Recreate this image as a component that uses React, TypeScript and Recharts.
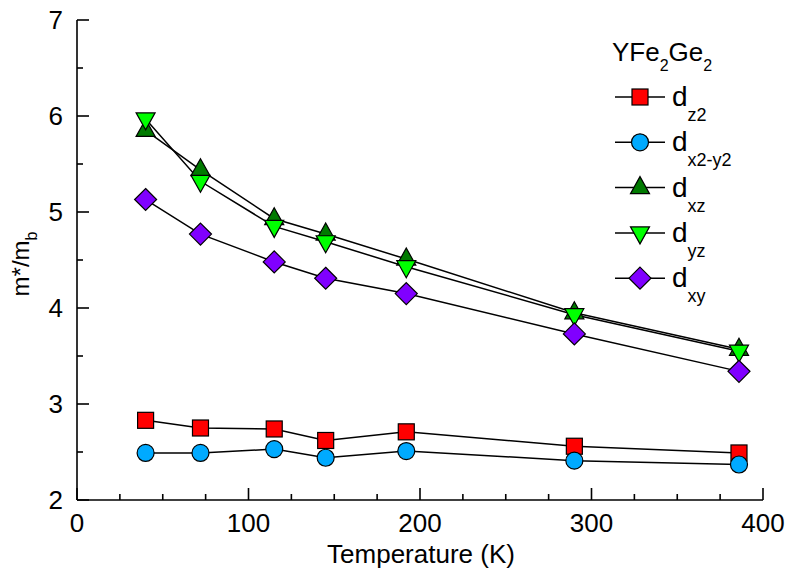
import { LineChart, Line, XAxis, YAxis, Legend } from "recharts"

const temps = [40, 72, 115, 145, 192, 290, 386]
const dz2 = [2.83, 2.75, 2.74, 2.62, 2.71, 2.56, 2.49]
const dx2y2 = [2.49, 2.49, 2.53, 2.44, 2.51, 2.41, 2.37]
const dxz = [5.85, 5.44, 4.93, 4.77, 4.51, 3.95, 3.57]
const dyz = [5.97, 5.32, 4.85, 4.69, 4.43, 3.93, 3.55]
const dxy = [5.13, 4.77, 4.48, 4.31, 4.15, 3.73, 3.34]

const xTicks = [0, 25, 50, 75, 100, 125, 150, 175, 200, 225, 250, 275, 300, 325, 350, 375, 400]
const yTicks = [2, 2.5, 3, 3.5, 4, 4.5, 5, 5.5, 6, 6.5, 7]

const FONT = "'Liberation Sans', Arial, Helvetica, sans-serif"
const AX = { stroke: "#000", strokeWidth: 1.6 }

const data = temps.map((t, i) => ({
  t,
  dz2: dz2[i],
  dx2y2: dx2y2[i],
  dxz: dxz[i],
  dyz: dyz[i],
  dxy: dxy[i],
}))

// marker shapes
function Marker({ kind, cx, cy, fill }: { kind: string; cx: number; cy: number; fill: string }) {
  const s = { fill, stroke: "#000", strokeWidth: 1.2 }
  if (kind === "square") return <rect x={cx - 8} y={cy - 8} width={16} height={16} {...s} />
  if (kind === "circle") return <circle cx={cx} cy={cy} r={8.5} {...s} />
  if (kind === "up")
    return <polygon points={`${cx},${cy - 11} ${cx + 9.5},${cy + 6} ${cx - 9.5},${cy + 6}`} {...s} />
  if (kind === "down")
    return <polygon points={`${cx},${cy + 11} ${cx + 9.5},${cy - 6} ${cx - 9.5},${cy - 6}`} {...s} />
  return <polygon points={`${cx},${cy - 11} ${cx + 11},${cy} ${cx},${cy + 11} ${cx - 11},${cy}`} {...s} />
}

const series = [
  { key: "dz2", kind: "square", fill: "#ff0000", sub: "z2" },
  { key: "dx2y2", kind: "circle", fill: "#00aaff", sub: "x2-y2" },
  { key: "dxz", kind: "up", fill: "#007a00", sub: "xz" },
  { key: "dyz", kind: "down", fill: "#00ff00", sub: "yz" },
  { key: "dxy", kind: "diamond", fill: "#8000ff", sub: "xy" },
]

const tickLen = (major: boolean) => (major ? 12 : 6)

const BottomTick = (p: any) => {
  const major = p.payload.value % 100 === 0
  return (
    <g>
      <line x1={p.x} x2={p.x} y1={p.y} y2={p.y - tickLen(major)} {...AX} />
      {major && (
        <text x={p.x} y={p.y + 32} textAnchor="middle" fontSize={26} fontFamily={FONT} fill="#000">
          {p.payload.value}
        </text>
      )}
    </g>
  )
}
const TopTick = (p: any) => {
  const major = p.payload.value % 100 === 0
  return <line x1={p.x} x2={p.x} y1={p.y} y2={p.y + tickLen(major)} {...AX} />
}
const LeftTick = (p: any) => {
  const major = p.payload.value % 1 === 0
  return (
    <g>
      <line x1={p.x} x2={p.x + tickLen(major)} y1={p.y} y2={p.y} {...AX} />
      {major && (
        <text x={p.x - 14} y={p.y + 9} textAnchor="end" fontSize={26} fontFamily={FONT} fill="#000">
          {p.payload.value}
        </text>
      )}
    </g>
  )
}
const RightTick = (p: any) => {
  const major = p.payload.value % 1 === 0
  return <line x1={p.x} x2={p.x - tickLen(major)} y1={p.y} y2={p.y} {...AX} />
}

const renderLegend = () => (
  <svg width={180} height={300} style={{ overflow: "visible" }}>
    <text x={12} y={36} fontSize={26} fontFamily={FONT} fill="#000">
      YFe<tspan dy={10} fontSize={16}>2</tspan>
      <tspan dy={-10}>Ge</tspan>
      <tspan dy={10} fontSize={16}>2</tspan>
    </text>
    {series.map((s, i) => {
      const cy = 72 + i * 45.3
      return (
        <g key={s.key}>
          <line x1={15} x2={65} y1={cy} y2={cy} stroke="#000" strokeWidth={1.5} />
          <Marker kind={s.kind} cx={40} cy={cy} fill={s.fill} />
          <text x={72} y={cy + 9} fontSize={28} fontFamily={FONT} fill="#000">
            d<tspan dy={15} fontSize={18}>{s.sub}</tspan>
          </text>
        </g>
      )
    })}
  </svg>
)

export default function App() {
  return (
    <div style={{ position: "absolute", left: 0, top: 0, background: "#fff" }}>
      <LineChart width={789} height={571} data={data} margin={{ top: 20, right: 26, left: 0, bottom: 0 }}>
        <XAxis
          dataKey="t"
          type="number"
          domain={[0, 400]}
          ticks={xTicks}
          interval={0}
          height={71}
          tickSize={0}
          tickMargin={0}
          tick={BottomTick}
          axisLine={AX}
          tickLine={false}
          label={{
            content: () => (
              <text x={421} y={563} textAnchor="middle" fontSize={26} fontFamily={FONT} fill="#000">
                Temperature (K)
              </text>
            ),
          }}
        />
        <XAxis
          xAxisId="top"
          orientation="top"
          dataKey="t"
          type="number"
          domain={[0, 400]}
          ticks={xTicks}
          interval={0}
          height={0}
          tickSize={0}
          tickMargin={0}
          tick={TopTick}
          axisLine={AX}
          tickLine={false}
        />
        <YAxis
          type="number"
          domain={[2, 7]}
          ticks={yTicks}
          interval={0}
          width={77}
          tickSize={0}
          tickMargin={0}
          tick={LeftTick}
          axisLine={AX}
          tickLine={false}
          label={{
            content: () => (
              <text
                x={0}
                y={0}
                transform="translate(29,264) rotate(-90)"
                textAnchor="middle"
                fontSize={24}
                fontFamily={FONT}
                fill="#000"
              >
                m*/m<tspan dy={8} fontSize={16}>b</tspan>
              </text>
            ),
          }}
        />
        <YAxis
          yAxisId="right"
          orientation="right"
          type="number"
          domain={[2, 7]}
          ticks={yTicks}
          interval={0}
          width={0}
          tickSize={0}
          tickMargin={0}
          tick={RightTick}
          axisLine={AX}
          tickLine={false}
        />
        <Legend
          content={renderLegend}
          layout="vertical"
          align="center"
          verticalAlign="middle"
          wrapperStyle={{ position: "absolute", left: 600, top: 25, width: 180 }}
        />
        {series.map((s) => (
          <Line
            key={s.key}
            dataKey={s.key}
            stroke="#000"
            strokeWidth={1.5}
            isAnimationActive={false}
            dot={(p: any) => (
              <Marker key={`${s.key}-${p.index}`} kind={s.kind} cx={p.cx} cy={p.cy} fill={s.fill} />
            )}
          />
        ))}
      </LineChart>
    </div>
  )
}
